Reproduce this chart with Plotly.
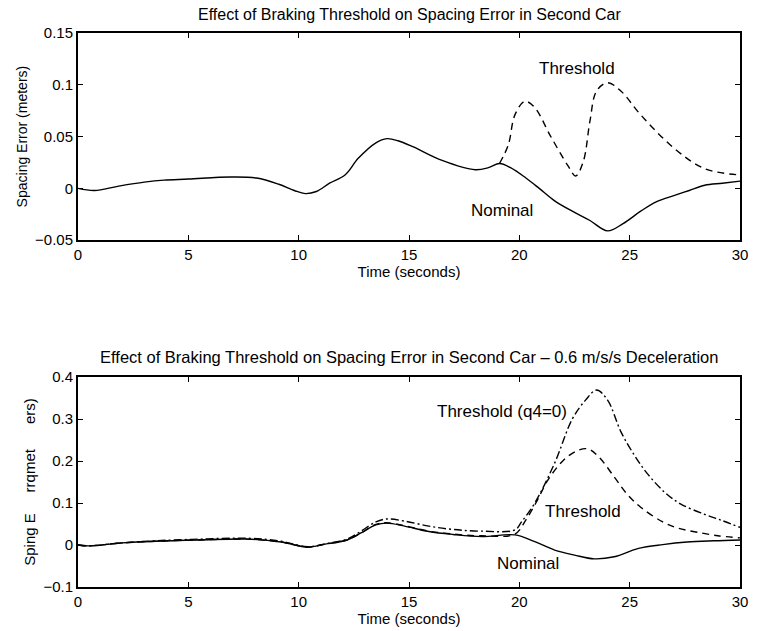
import plotly.graph_objects as go
from plotly.subplots import make_subplots

# ---- Top panel data ----
top_nom_t = [0, 0.75, 1.8, 3, 3.9, 5, 6.9, 8.1, 9.1, 9.8, 10.3, 10.8, 11.4, 12.1, 12.7, 13.5, 14.0, 14.5,
             15.2, 16.5, 18.0, 18.6, 19.1, 19.6, 20.3, 20.9, 21.6, 22.4, 23.2, 24.0, 24.7, 25.5, 26.2,
             27.0, 27.7, 28.4, 29.2, 30]
top_nom_v = [0, -0.002, 0.002, 0.006, 0.008, 0.009, 0.011, 0.010, 0.004, -0.002, -0.005, -0.003, 0.005,
             0.013, 0.029, 0.044, 0.048, 0.046, 0.040, 0.027, 0.018, 0.020, 0.024, 0.020, 0.010, 0.0,
             -0.012, -0.022, -0.031, -0.041, -0.034, -0.022, -0.013, -0.007, -0.002, 0.003, 0.005, 0.007]

top_thr_t = [19.1, 19.5, 19.8, 20.25, 20.7, 21.4, 22.2, 22.55, 22.9, 23.2, 23.5, 24.0, 24.6, 25.5, 27.0,
             28.4, 30]
top_thr_v = [0.024, 0.042, 0.071, 0.084, 0.078, 0.051, 0.022, 0.012, 0.026, 0.065, 0.094, 0.102, 0.094,
             0.071, 0.039, 0.019, 0.013]

# ---- Bottom panel data ----
bot_nom_t = [0, 0.5, 2, 3.5, 5.5, 7.7, 9.2, 10.4, 11.2, 12.2, 12.8, 13.5, 14.0, 14.8, 15.9, 17.0, 18.3,
             19.8, 20.7, 21.6, 22.5, 23.4, 24.3, 25.4, 26.5, 27.6, 28.8, 30]
bot_nom_v = [0, -0.002, 0.005, 0.009, 0.012, 0.014, 0.007, -0.005, 0.002, 0.012, 0.028, 0.048, 0.052,
             0.045, 0.032, 0.025, 0.020, 0.024, 0.008, -0.012, -0.024, -0.033, -0.028, -0.008, 0.001,
             0.007, 0.010, 0.012]

bot_thr_t = [0, 0.5, 2, 3.5, 5.5, 7.7, 9.2, 10.4, 11.2, 12.2, 12.8, 13.5, 14.0, 14.8, 15.9, 17.0, 18.3,
             19.8, 20.3, 20.8, 21.3, 22.0, 22.6, 23.1, 23.6, 24.3, 24.9, 25.5, 26.5, 27.2, 28.0, 29.0, 30]
bot_thr_v = [0, -0.002, 0.005, 0.009, 0.012, 0.014, 0.007, -0.005, 0.002, 0.012, 0.028, 0.049, 0.053,
             0.046, 0.033, 0.026, 0.022, 0.026, 0.06, 0.105, 0.155, 0.202, 0.224, 0.229, 0.21, 0.162,
             0.12, 0.09, 0.055, 0.04, 0.031, 0.022, 0.017]

bot_q4_t = [0, 0.5, 2, 3.5, 5.5, 7.7, 9.2, 10.4, 11.2, 12.2, 12.8, 13.5, 14.0, 14.8, 15.9, 17.0, 18.3,
            19.8, 20.1, 20.7, 21.6, 22.4, 23.0, 23.5, 24.0, 24.6, 25.2, 25.8, 26.6, 27.3, 28.4, 29.2, 30]
bot_q4_v = [0, -0.002, 0.005, 0.010, 0.014, 0.016, 0.009, -0.004, 0.003, 0.014, 0.032, 0.055, 0.062,
            0.057, 0.045, 0.037, 0.033, 0.036, 0.055, 0.10, 0.195, 0.30, 0.345, 0.369, 0.345, 0.27,
            0.215, 0.17, 0.125, 0.098, 0.073, 0.058, 0.042]

x_ticks = [0, 5, 10, 15, 20, 25, 30]
top_yticks = [-0.05, 0, 0.05, 0.1, 0.15]
top_ytext = ["\u22120.05", "0", "0.05", "0.1", "0.15"]
bot_yticks = [-0.1, 0, 0.1, 0.2, 0.3, 0.4]
bot_ytext = ["\u22120.1", "0", "0.1", "0.2", "0.3", "0.4"]

FONT = "Liberation Sans, Arial, Helvetica, sans-serif"

fig = make_subplots(rows=2, cols=1)
line_w = 1.4
fig.add_trace(go.Scatter(x=top_nom_t, y=top_nom_v, mode="lines", line=dict(color="black", width=line_w, shape="spline"), showlegend=False), row=1, col=1)
fig.add_trace(go.Scatter(x=top_thr_t, y=top_thr_v, mode="lines", line=dict(color="black", width=line_w, dash="7px,5px", shape="spline"), showlegend=False), row=1, col=1)
fig.add_trace(go.Scatter(x=bot_nom_t, y=bot_nom_v, mode="lines", line=dict(color="black", width=line_w, shape="spline"), showlegend=False), row=2, col=1)
fig.add_trace(go.Scatter(x=bot_thr_t, y=bot_thr_v, mode="lines", line=dict(color="black", width=line_w, dash="7px,5px", shape="spline"), showlegend=False), row=2, col=1)
fig.add_trace(go.Scatter(x=bot_q4_t, y=bot_q4_v, mode="lines", line=dict(color="black", width=line_w, dash="8px,3px,2px,3px", shape="spline"), showlegend=False), row=2, col=1)

ax_common = dict(showline=True, linecolor="black", linewidth=2, mirror="ticks", ticks="inside",
                 ticklen=5, tickcolor="black", showgrid=False, zeroline=False,
                 tickfont=dict(family=FONT, size=15, color="black"))

fig.update_xaxes(range=[0, 30], tickvals=x_ticks, **ax_common)
fig.update_yaxes(**ax_common)
fig.update_xaxes(domain=[0, 1], row=1, col=1)
fig.update_xaxes(domain=[0, 1], row=2, col=1)
fig.update_yaxes(domain=[0.626, 1.0], range=[-0.05, 0.15], tickvals=top_yticks, ticktext=top_ytext, row=1, col=1)
fig.update_yaxes(domain=[0.0, 0.379], range=[-0.1, 0.4], tickvals=bot_yticks, ticktext=bot_ytext, row=2, col=1)

fig.update_xaxes(title=dict(text="Time (seconds)", font=dict(family=FONT, size=15, color="black"), standoff=0), row=1, col=1)
fig.update_xaxes(title=dict(text="Time (seconds)", font=dict(family=FONT, size=15, color="black"), standoff=0), row=2, col=1)
fig.update_yaxes(title=dict(text="Spacing Error (meters)", font=dict(family=FONT, size=14, color="black"), standoff=4), row=1, col=1)
nb = "\u00a0"
fig.update_yaxes(title=dict(text="Sping E" + nb * 5 + "rrqmet" + nb * 6 + "ers)", font=dict(family=FONT, size=15, color="black"), standoff=4), row=2, col=1)

ann_font = dict(family=FONT, size=17, color="black")
annotations = [
    dict(text="Effect of Braking Threshold on Spacing Error in Second Car", x=0.5, y=1.0, xref="paper", yref="paper",
         yanchor="bottom", yshift=8, showarrow=False, font=dict(family=FONT, size=16, color="black")),
    dict(text="Effect of Braking Threshold on Spacing Error in Second Car \u2013 0.6 m/s/s Deceleration", x=0.5, y=0.379,
         xref="paper", yref="paper", yanchor="bottom", yshift=9, showarrow=False, font=dict(family=FONT, size=16.5, color="black")),
    dict(text="Threshold", x=22.6, y=0.116, xref="x", yref="y", showarrow=False, font=ann_font),
    dict(text="Nominal", x=19.2, y=-0.021, xref="x", yref="y", showarrow=False, font=ann_font),
    dict(text="Threshold (q4=0)", x=19.2, y=0.317, xref="x2", yref="y2", showarrow=False, font=ann_font),
    dict(text="Threshold", x=22.9, y=0.079, xref="x2", yref="y2", showarrow=False, font=ann_font),
    dict(text="Nominal", x=20.4, y=-0.043, xref="x2", yref="y2", showarrow=False, font=ann_font),
]
fig.update_layout(annotations=annotations)

fig.update_layout(width=758, height=631, margin=dict(l=78, r=10, t=33, b=44),
                  paper_bgcolor="white", plot_bgcolor="white",
                  font=dict(family=FONT, color="black"))

fig.write_html("out.html")
